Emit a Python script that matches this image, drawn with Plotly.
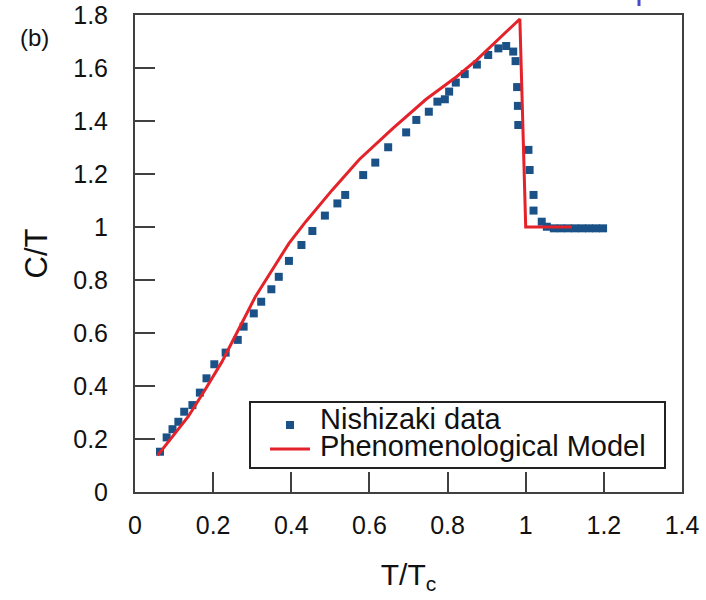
import plotly.graph_objects as go

# ---- data ----
data_T = [0.064, 0.081, 0.096, 0.111, 0.126, 0.147, 0.166, 0.183, 0.203, 0.232,
          0.263, 0.278, 0.304, 0.323, 0.349, 0.368, 0.394, 0.426, 0.454, 0.486,
          0.518, 0.538, 0.584, 0.615, 0.648, 0.694, 0.720, 0.752, 0.774, 0.793,
          0.804, 0.821, 0.844, 0.875, 0.904, 0.930, 0.950, 0.968, 0.974, 0.978,
          0.980, 0.981, 1.007, 1.010, 1.020, 1.020, 1.041, 1.054, 1.072, 1.090,
          1.108, 1.126, 1.144, 1.162, 1.180, 1.198]
data_C = [0.152, 0.206, 0.237, 0.265, 0.303, 0.328, 0.375, 0.429, 0.482, 0.526,
          0.574, 0.624, 0.674, 0.718, 0.765, 0.812, 0.872, 0.932, 0.985, 1.043,
          1.089, 1.121, 1.196, 1.243, 1.301, 1.357, 1.404, 1.435, 1.473, 1.482,
          1.511, 1.545, 1.577, 1.613, 1.649, 1.674, 1.683, 1.662, 1.626, 1.528,
          1.457, 1.385, 1.291, 1.215, 1.121, 1.062, 1.020, 1.001, 0.995, 0.995,
          0.995, 0.995, 0.995, 0.995, 0.995, 0.995]

model_T = [0.058, 0.093, 0.136, 0.179, 0.222, 0.265, 0.308, 0.351, 0.394, 0.437,
           0.479, 0.505, 0.574, 0.620, 0.660, 0.745, 0.823, 0.874, 0.985, 1.000, 1.118]
model_C = [0.138, 0.204, 0.284, 0.385, 0.490, 0.613, 0.737, 0.838, 0.938, 1.020,
           1.095, 1.140, 1.255, 1.318, 1.372, 1.482, 1.567, 1.630, 1.785, 1.000, 1.000]

x_ticks = [0, 0.2, 0.4, 0.6, 0.8, 1.0, 1.2, 1.4]
x_tick_labels = ["0", "0.2", "0.4", "0.6", "0.8", "1", "1.2", "1.4"]
y_ticks = [0, 0.2, 0.4, 0.6, 0.8, 1.0, 1.2, 1.4, 1.6, 1.8]
y_tick_labels = ["0", "0.2", "0.4", "0.6", "0.8", "1", "1.2", "1.4", "1.6", "1.8"]

legend_names = ["Nishizaki data", "Phenomenological Model"]

BLUE = "#1a5288"
RED = "#e4222a"
FRAME = "#404040"
FONT = "Liberation Sans, Arial, Helvetica, sans-serif"

W, H = 706, 600
L, R, T, B = 135, 24, 15, 108
PW, PH = W - L - R, H - T - B


def px(x):
    return (x - L) / PW


def py(y):
    return (H - B - y) / PH


fig = go.Figure()
fig.add_trace(go.Scatter(x=data_T, y=data_C, mode="markers", name=legend_names[0],
                         marker=dict(symbol="square", size=8, color=BLUE),
                         showlegend=False, cliponaxis=False))
fig.add_trace(go.Scatter(x=model_T, y=model_C, mode="lines", name=legend_names[1],
                         line=dict(color=RED, width=3), showlegend=False))

axis_common = dict(showline=True, linecolor=FRAME, linewidth=2, mirror=True,
                   ticks="inside", ticklen=20, tickwidth=2, tickcolor=FRAME,
                   showgrid=False, zeroline=False, automargin=False,
                   tickfont=dict(family=FONT, size=25, color="#111"))

fig.update_layout(
    width=W, height=H, margin=dict(l=L, r=R, t=T, b=B, autoexpand=False),
    paper_bgcolor="white", plot_bgcolor="white",
    xaxis=dict(range=[0, 1.4], tickvals=x_ticks, ticktext=x_tick_labels,
               ticklabelstandoff=10,
               title=dict(text="T/T<sub>c</sub>", font=dict(family=FONT, size=30, color="#111"),
                          standoff=26),
               **axis_common),
    yaxis=dict(range=[0, 1.8], tickvals=y_ticks, ticktext=y_tick_labels,
               ticklabelstandoff=20,
               title=dict(text="C/T", font=dict(family=FONT, size=31, color="#111"),
                          standoff=16),
               **axis_common),
    showlegend=False,
)

# manual legend (box, symbols, texts)
shapes = [
    dict(type="rect", xref="paper", yref="paper", x0=px(250), x1=px(665), y0=py(402), y1=py(468),
         line=dict(color="#222", width=2), fillcolor="white", layer="above"),
    dict(type="rect", xref="paper", yref="paper", x0=px(286), x1=px(294), y0=py(421), y1=py(429),
         line=dict(width=0), fillcolor=BLUE, layer="above"),
    dict(type="line", xref="paper", yref="paper", x0=px(270), x1=px(310), y0=py(449), y1=py(449),
         line=dict(color=RED, width=3), layer="above"),
    # small blue mark at the top right of the picture
    dict(type="line", xref="paper", yref="paper", x0=px(639), x1=px(639), y0=py(0), y1=py(6),
         line=dict(color="#4a4ac8", width=3)),
]
annotations = [
    dict(text=legend_names[0], xref="paper", yref="paper", x=px(318), y=py(419),
         xanchor="left", yanchor="middle", showarrow=False,
         font=dict(family=FONT, size=29, color="#111")),
    dict(text=legend_names[1], xref="paper", yref="paper", x=px(318), y=py(446),
         xanchor="left", yanchor="middle", showarrow=False,
         font=dict(family=FONT, size=29, color="#111")),
    dict(text="(b)", xref="paper", yref="paper", x=px(34), y=py(37),
         xanchor="center", yanchor="middle", showarrow=False,
         font=dict(family=FONT, size=24, color="#111")),
]
fig.update_layout(shapes=shapes, annotations=annotations)

fig.write_html("out.html", config={"displayModeBar": False},
               post_script="document.body.style.margin='0';document.body.style.overflow='hidden';")
